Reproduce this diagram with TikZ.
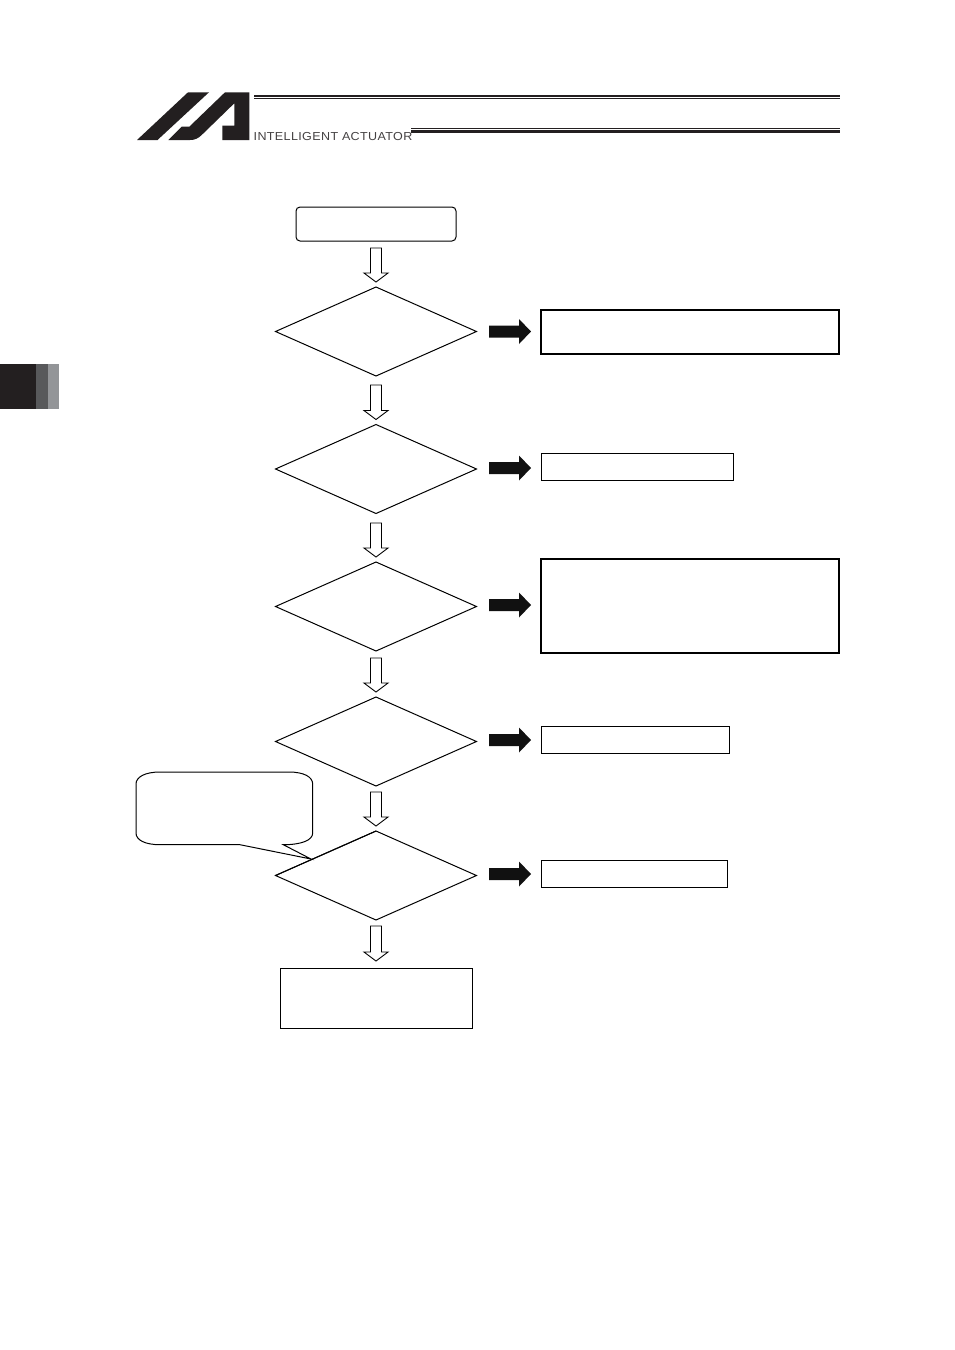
\documentclass[tikz,border=0pt]{standalone}
\usepackage{fontspec}
\setmainfont{Liberation Sans}
\newfontfamily\logofont[LetterSpace=3.2,FakeStretch=1.08]{Liberation Sans}
\usetikzlibrary{shapes.geometric,calc}
\definecolor{inkdark}{HTML}{231F20}
\definecolor{inkmid}{HTML}{58595B}
\definecolor{inklight}{HTML}{939598}
\definecolor{inksolid}{HTML}{111111}
\tikzset{
  x=1pt,y=-1pt,
  flowline/.style={draw=black,line width=1pt,line join=miter},
  decision/.style={flowline,diamond,minimum width=201pt,minimum height=89pt,inner sep=0pt,outer sep=0pt},
  thinbox/.style={flowline,rectangle,inner sep=0pt,outer sep=0pt,minimum height=27.5pt},
  thickbox/.style={draw=black,line width=1.5pt,rectangle,inner sep=0pt,outer sep=0pt},
  hollowarrow/.style={draw=black,line width=0.9pt,fill=white,line join=miter,
    to path={let \p1=(\tikztostart),\p2=(\tikztotarget) in
      (\x1-5.5pt,\y1) -- (\x1+5.5pt,\y1) -- (\x1+5.5pt,\y2+9pt) -- (\x1+12pt,\y2+9pt)
      -- (\x1,\y2) -- (\x1-12pt,\y2+9pt) -- (\x1-5.5pt,\y2+9pt) -- cycle}},
  solidarrow/.style={fill=inksolid,draw=none,
    to path={let \p1=(\tikztostart),\p2=(\tikztotarget) in
      (\x1+12.5pt,\y1+6pt) -- (\x2-22pt,\y1+6pt) -- (\x2-22pt,\y1+12.5pt) -- (\x2-10pt,\y1)
      -- (\x2-22pt,\y1-12.5pt) -- (\x2-22pt,\y1-6pt) -- (\x1+12.5pt,\y1-6pt) -- cycle}}
}
\begin{document}
\begin{tikzpicture}
\useasboundingbox (0,0) rectangle (954,1350);
\fill[white] (0,0) rectangle (954,1350);
% side tab
\fill[inkdark] (0,364) rectangle (36,409);
\fill[inkmid] (36,364) rectangle (48,409);
\fill[inklight] (48,364) rectangle (59,409);
% logo
\fill[inkdark] (137,140) -- (188,92.3) -- (209,92.3) -- (157.5,140) -- cycle;
\fill[inkdark] (168.3,140) -- (181.7,126.7) -- (189.3,126.7) -- (225,92.3) -- (249.3,92.3) -- (249.3,140)
  -- (222.3,140) -- (222.3,125.7) -- (234.3,125.7) -- (234.3,103.3) -- (201.7,135)
  .. controls (198,138.5) and (195,140) .. (190,140) -- cycle;
% header rules
\fill[inkdark] (253.5,94.5) rectangle (840,96.7);
\fill[inkdark] (253.5,98) rectangle (840,99);
\fill[inkdark] (411,128) rectangle (840,129);
\fill[inkdark] (411,130.2) rectangle (840,132.5);
\node[anchor=base west,inner sep=0pt,text=inkdark!85] (brand) at (253.5,140) {\logofont\fontsize{11.6pt}{12pt}\selectfont INTELLIGENT ACTUATOR};
% flow nodes
\node[flowline,rectangle,rounded corners=4pt,minimum width=160pt,minimum height=34pt,inner sep=0pt,outer sep=0pt] (start) at (376,224) {};
\node[decision] (d1) at (376,331.5) {};
\node[decision] (d2) at (376,469) {};
\node[decision] (d3) at (376,606.5) {};
\node[decision] (d4) at (376,741.5) {};
\node[decision] (d5) at (376,875.5) {};
\node[flowline,rectangle,minimum width=192pt,minimum height=60pt,inner sep=0pt,outer sep=0pt] (final) at (376,998) {};
\node[thickbox,minimum width=298pt,minimum height=44pt] (r1) at (690,332) {};
\node[thinbox,minimum width=192pt] (r2) at (637,467) {};
\node[thickbox,minimum width=298pt,minimum height=94pt] (r3) at (690,606) {};
\node[thinbox,minimum width=188pt] (r4) at (635,740) {};
\node[thinbox,minimum width=186pt] (r5) at (634,874) {};
% callout
\draw[line width=1pt,fill=white,line join=miter] (160,772) -- (289,772)
  .. controls (304,772) and (312.7,777) .. (312.7,784) -- (312.7,833)
  .. controls (312.7,840) and (302,844.7) .. (283.3,844.7)
  -- (311,859) -- (240,844.7) -- (160,844.7)
  .. controls (145,844.7) and (136,840) .. (136,833) -- (136,784)
  .. controls (136,777) and (145,772) .. (160,772) -- cycle;
% redraw diamond edge over callout tip
\draw[line width=1pt] (d5.north) -- (d5.west);
% hollow arrows
\draw[hollowarrow] ([yshift=-7pt]start.south) to ([yshift=5pt]d1.north);
\draw[hollowarrow] ([yshift=-9pt]d1.south) to ([yshift=5pt]d2.north);
\draw[hollowarrow] ([yshift=-9.5pt]d2.south) to ([yshift=5pt]d3.north);
\draw[hollowarrow] ([yshift=-7pt]d3.south) to ([yshift=5pt]d4.north);
\draw[hollowarrow] ([yshift=-6pt]d4.south) to ([yshift=5pt]d5.north);
\draw[hollowarrow] ([yshift=-6pt]d5.south) to ([yshift=7pt]final.north);
% solid arrows
\path[solidarrow] (d1.east) to (r1.west);
\path[solidarrow] ([yshift=1pt]d2.east) to (r2.west);
\path[solidarrow] ([yshift=1.5pt]d3.east) to (r3.west);
\path[solidarrow] ([yshift=1.5pt]d4.east) to (r4.west);
\path[solidarrow] ([yshift=1.5pt]d5.east) to (r5.west);
\end{tikzpicture}
\end{document}
